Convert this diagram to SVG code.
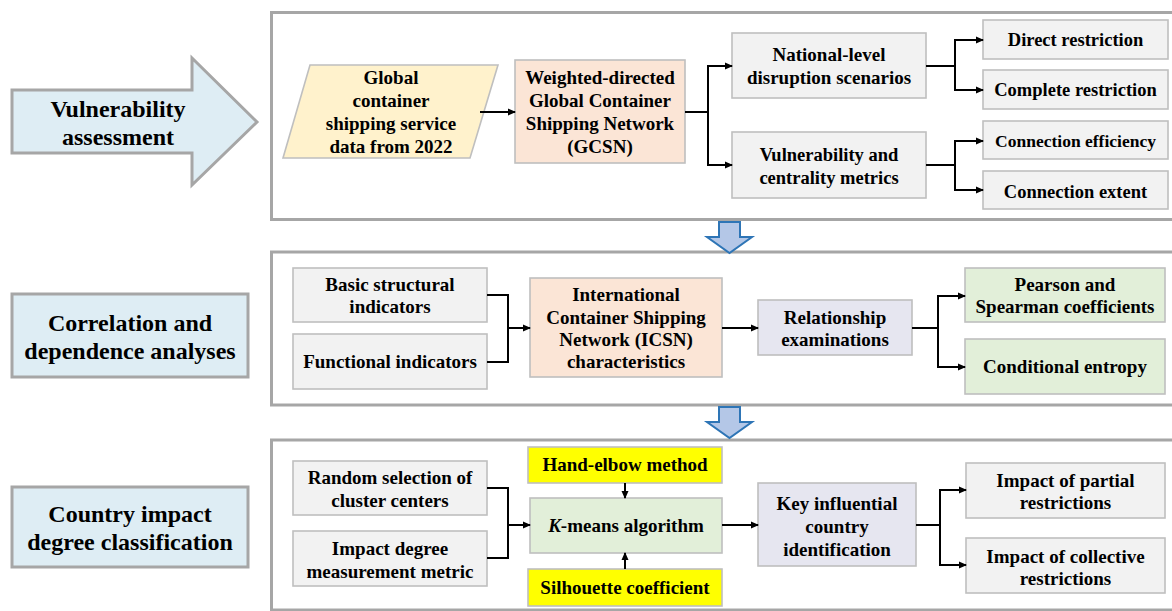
<svg xmlns="http://www.w3.org/2000/svg" width="1172" height="611" viewBox="0 0 1172 611" font-family="'Liberation Serif', 'DejaVu Serif', serif">
<defs>
<marker id="ah" markerWidth="8" markerHeight="8" refX="7" refY="4" orient="auto" markerUnits="userSpaceOnUse">
<path d="M0,0.5 L8,4 L0,7.5 Z" fill="#000"/>
</marker>
</defs>
<style>
.panel{fill:#fff;stroke:#a6a6a6;stroke-width:3}
.lab{fill:#deedf4;stroke:#a6a6a6;stroke-width:3}
.box{stroke:#bfbfbf;stroke-width:1.6}
.grey{fill:#f2f2f2}
.peach{fill:#fbe5d6}
.lav{fill:#e6e6f0}
.green{fill:#e2efd9}
.yel{fill:#ffff00}
text{font-family:'Liberation Serif','DejaVu Serif',serif}
.t{font-weight:bold;font-size:19px;fill:#000;text-anchor:middle}
.s{font-size:18.5px}
.xs{font-size:17.5px}
.big{font-size:24px}
.c{fill:none;stroke:#000;stroke-width:2}
.ca{fill:none;stroke:#000;stroke-width:2;marker-end:url(#ah)}
.down{fill:#b4c7e7;stroke:#2e75b6;stroke-width:2}
</style>

<g id="panels">
<rect class="panel" x="271.5" y="12.5" width="910" height="207"/>
<rect class="panel" x="271.5" y="252" width="910" height="153"/>
<rect class="panel" x="271.5" y="440" width="910" height="170"/>
</g>

<g id="label-vulnerability">
<path class="lab" d="M12,90 L192,90 L192,58 L257,122 L192,185 L192,153 L12,153 Z"/>
<text class="t big" x="118" y="117">Vulnerability</text>
<text class="t big" x="118" y="145">assessment</text>
</g>
<g id="label-correlation">
<rect class="lab" x="12" y="294" width="236" height="83"/>
<text class="t big" x="130" y="331">Correlation and</text>
<text class="t big" x="130" y="359">dependence analyses</text>
</g>
<g id="label-country">
<rect class="lab" x="12" y="487" width="236" height="80"/>
<text class="t big" x="130" y="522">Country impact</text>
<text class="t big" x="130" y="550">degree classification</text>
</g>

<g id="down-arrows">
<path class="down" d="M719,222 L740,222 L740,237 L752,237 L729.5,253 L707,237 L719,237 Z"/>
<path class="down" d="M719,407 L740,407 L740,422 L752,422 L729.5,438 L707,422 L719,422 Z"/>
</g>

<g id="n-data">
<path class="box" fill="#fff2cc" d="M310,65 L498,65 L470,158 L283,158 Z"/>
<text class="t" x="391" y="84">Global</text>
<text class="t" x="391" y="107">container</text>
<text class="t" x="391" y="130">shipping service</text>
<text class="t" x="391" y="153">data from 2022</text>
</g>
<g id="n-gcsn">
<rect class="box peach" x="515" y="60" width="170" height="103"/>
<text class="t" x="600" y="84">Weighted-directed</text>
<text class="t" x="600" y="107">Global Container</text>
<text class="t" x="600" y="130">Shipping Network</text>
<text class="t" x="600" y="153">(GCSN)</text>
</g>
<g id="n-national">
<rect class="box grey" x="732" y="33" width="194" height="65"/>
<text class="t" x="829" y="61">National-level</text>
<text class="t" x="829" y="84">disruption scenarios</text>
</g>
<g id="n-vulmetrics">
<rect class="box grey" x="732" y="132" width="194" height="66"/>
<text class="t s" x="829" y="161">Vulnerability and</text>
<text class="t s" x="829" y="184">centrality metrics</text>
</g>
<g id="n-direct">
<rect class="box grey" x="983" y="20" width="185" height="39"/>
<text class="t s" x="1075.5" y="46">Direct restriction</text>
</g>
<g id="n-complete">
<rect class="box grey" x="983" y="70" width="185" height="39"/>
<text class="t s" x="1075.5" y="96">Complete restriction</text>
</g>
<g id="n-efficiency">
<rect class="box grey" x="983" y="121" width="185" height="38"/>
<text class="t xs" x="1075.5" y="147">Connection efficiency</text>
</g>
<g id="n-extent">
<rect class="box grey" x="983" y="171" width="185" height="38"/>
<text class="t s" x="1075.5" y="198">Connection extent</text>
</g>

<g id="n-basic">
<rect class="box grey" x="293" y="268" width="194" height="54"/>
<text class="t" x="390" y="291">Basic structural</text>
<text class="t" x="390" y="313">indicators</text>
</g>
<g id="n-functional">
<rect class="box grey" x="293" y="334" width="194" height="55"/>
<text class="t" x="390" y="368">Functional indicators</text>
</g>
<g id="n-icsn">
<rect class="box peach" x="530" y="278" width="192" height="99"/>
<text class="t" x="626" y="301">International</text>
<text class="t" x="626" y="324">Container Shipping</text>
<text class="t" x="626" y="346">Network (ICSN)</text>
<text class="t" x="626" y="368">characteristics</text>
</g>
<g id="n-relationship">
<rect class="box lav" x="758" y="300" width="154" height="55"/>
<text class="t" x="835" y="324">Relationship</text>
<text class="t" x="835" y="346">examinations</text>
</g>
<g id="n-pearson">
<rect class="box green" x="965" y="268" width="200" height="54"/>
<text class="t" x="1065" y="291">Pearson and</text>
<text class="t" x="1065" y="313">Spearman coefficients</text>
</g>
<g id="n-entropy">
<rect class="box green" x="965" y="339" width="200" height="55"/>
<text class="t" x="1065" y="373">Conditional entropy</text>
</g>

<g id="n-random">
<rect class="box grey" x="293" y="461" width="194" height="54"/>
<text class="t" x="390" y="484">Random selection of</text>
<text class="t" x="390" y="507">cluster centers</text>
</g>
<g id="n-impactmetric">
<rect class="box grey" x="293" y="531" width="194" height="55"/>
<text class="t" x="390" y="555">Impact degree</text>
<text class="t" x="390" y="578">measurement metric</text>
</g>
<g id="n-elbow">
<rect class="box yel" x="528" y="447" width="194" height="36"/>
<text class="t" x="625" y="471">Hand-elbow method</text>
</g>
<g id="n-kmeans">
<rect class="box green" x="530" y="498" width="192" height="55"/>
<text class="t" x="626" y="532"><tspan font-style="italic">K</tspan>-means algorithm</text>
</g>
<g id="n-silhouette">
<rect class="box yel" x="528" y="569" width="194" height="37"/>
<text class="t" x="625" y="594">Silhouette coefficient</text>
</g>
<g id="n-key">
<rect class="box lav" x="758" y="483" width="158" height="83"/>
<text class="t" x="837" y="510">Key influential</text>
<text class="t" x="837" y="533">country</text>
<text class="t" x="837" y="556">identification</text>
</g>
<g id="n-partial">
<rect class="box grey" x="966" y="463" width="199" height="55"/>
<text class="t" x="1065.5" y="487">Impact of partial</text>
<text class="t" x="1065.5" y="509">restrictions</text>
</g>
<g id="n-collective">
<rect class="box grey" x="966" y="538" width="199" height="55"/>
<text class="t" x="1065.5" y="563">Impact of collective</text>
<text class="t" x="1065.5" y="585">restrictions</text>
</g>

<g id="connectors">
<line class="ca" x1="480" y1="112" x2="515" y2="112"/>
<line class="c" x1="685" y1="112" x2="708" y2="112"/>
<polyline class="ca" points="708,112 708,66 732,66"/>
<polyline class="ca" points="708,112 708,165 732,165"/>
<line class="c" x1="926" y1="66" x2="955" y2="66"/>
<polyline class="ca" points="955,66 955,40 983,40"/>
<polyline class="ca" points="955,66 955,90 983,90"/>
<line class="c" x1="926" y1="165" x2="955" y2="165"/>
<polyline class="ca" points="955,165 955,141 983,141"/>
<polyline class="ca" points="955,165 955,190 983,190"/>

<polyline class="c" points="487,295 508,295 508,362 487,362"/>
<line class="ca" x1="508" y1="328" x2="530" y2="328"/>
<line class="ca" x1="722" y1="328" x2="758" y2="328"/>
<line class="c" x1="912" y1="328" x2="938" y2="328"/>
<polyline class="ca" points="938,328 938,296 965,296"/>
<polyline class="ca" points="938,328 938,367 965,367"/>

<polyline class="c" points="487,488 508,488 508,558 487,558"/>
<line class="ca" x1="508" y1="525" x2="530" y2="525"/>
<line class="ca" x1="625" y1="483" x2="625" y2="498"/>
<line class="ca" x1="625" y1="569" x2="625" y2="553"/>
<line class="ca" x1="722" y1="525" x2="758" y2="525"/>
<line class="c" x1="916" y1="525" x2="940" y2="525"/>
<polyline class="ca" points="940,525 940,490 966,490"/>
<polyline class="ca" points="940,525 940,565 966,565"/>
</g>
</svg>
